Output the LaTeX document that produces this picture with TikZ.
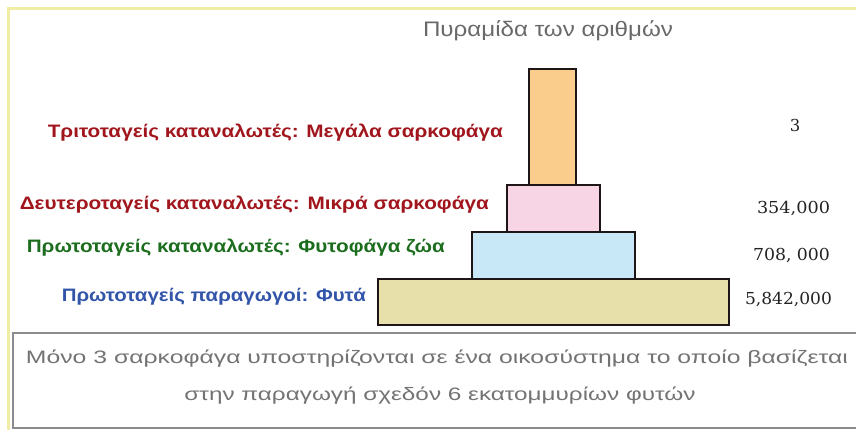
\documentclass[tikz,border=0pt]{standalone}
\usepackage{fontspec}
\usepackage{graphicx}
\setmainfont{Liberation Sans}
\newfontfamily\numfont{DejaVu Serif}
\definecolor{frameyellow}{RGB}{242,237,165}
\definecolor{boxgray}{RGB}{140,140,140}
\definecolor{titlegray}{RGB}{105,105,105}
\definecolor{notegray}{RGB}{115,115,115}
\definecolor{numgray}{RGB}{35,35,35}
\definecolor{lblred}{RGB}{160,22,28}
\definecolor{lblgreen}{RGB}{28,110,30}
\definecolor{lblblue}{RGB}{50,85,170}
\definecolor{fillorange}{RGB}{250,205,140}
\definecolor{fillpink}{RGB}{248,213,228}
\definecolor{fillblue}{RGB}{200,232,248}
\definecolor{filltan}{RGB}{232,224,170}
\definecolor{edgedark}{RGB}{30,22,22}
\newcommand{\fitw}[2]{\resizebox{#1pt}{\height}{#2}}
\tikzset{
  level/.style={draw=edgedark, line width=2pt, inner sep=0pt, anchor=north west},
  lbl/.style={inner sep=0pt, anchor=mid east, font=\fontsize{18}{20}\selectfont\bfseries},
  numlbl/.style={inner sep=0pt, anchor=mid, text=numgray, font=\fontsize{16.5}{18}\selectfont\numfont},
  note/.style={inner sep=0pt, anchor=mid, text=notegray, font=\fontsize{18}{20}\selectfont}
}
\begin{document}
\begin{tikzpicture}[x=1pt,y=-1pt]
\useasboundingbox (0,0) rectangle (856,430);
\clip (0,0) rectangle (856,430);
\fill[white] (0,0) rectangle (856,430);
% outer frame
\draw[frameyellow, line width=3pt] (8,480) -- (8,9) -- (950,9);
% note box
\draw[boxgray, line width=1.5pt] (950,333) -- (13,333) -- (13,428) -- (950,428);
% title
\node[inner sep=0pt, anchor=mid, text=titlegray, font=\fontsize{21}{23}\selectfont] (title) at (548,34) {\fitw{250}{Πυραμίδα των αριθμών}};
% pyramid levels
\node[level, fill=fillorange, minimum width=47pt, minimum height=116pt] (l4) at (528,68) {};
\node[level, fill=fillpink, minimum width=93pt, minimum height=47pt] (l3) at (506,184) {};
\node[level, fill=fillblue, minimum width=163pt, minimum height=47pt] (l2) at (471,231) {};
\node[level, fill=filltan, minimum width=351pt, minimum height=46pt] (l1) at (377,278) {};
% labels
\node[lbl, text=lblred] (t4) at (503,135) {\fitw{455}{Τριτοταγείς καταναλωτές: Μεγάλα σαρκοφάγα}};
\node[lbl, text=lblred] (t3) at (489,207) {\fitw{469}{Δευτεροταγείς καταναλωτές: Μικρά σαρκοφάγα}};
\node[lbl, text=lblgreen] (t2) at (445,250) {\fitw{418}{Πρωτοταγείς καταναλωτές: Φυτοφάγα ζώα}};
\node[lbl, text=lblblue] (t1) at (366,299) {\fitw{304}{Πρωτοταγείς παραγωγοί: Φυτά}};
% numbers
\node[numlbl] (n4) at (795,129) {3};
\node[numlbl] (n3) at (793.5,211) {\fitw{73}{354,000}};
\node[numlbl] (n2) at (791.5,258) {\fitw{77}{708, 000}};
\node[numlbl] (n1) at (788.5,302) {\fitw{87}{5,842,000}};
% note text
\node[note] (m1) at (437,361) {\fitw{822}{Μόνο 3 σαρκοφάγα υποστηρίζονται σε ένα οικοσύστημα το οποίο βασίζεται}};
\node[note] (m2) at (440,398) {\fitw{511}{στην παραγωγή σχεδόν 6 εκατομμυρίων φυτών}};
\end{tikzpicture}
\end{document}
